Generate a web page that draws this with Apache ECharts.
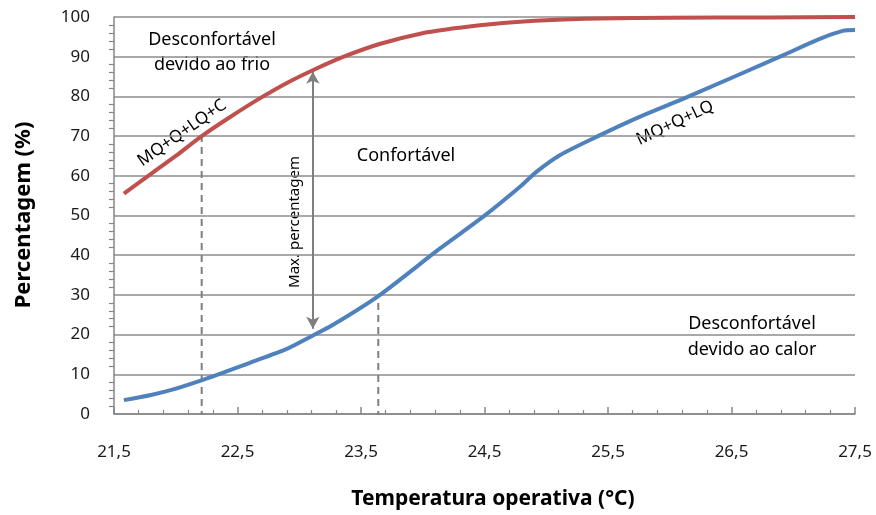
<!DOCTYPE html>
<html>
<head>
<meta charset="utf-8">
<script src="https://cdn.jsdelivr.net/npm/echarts@6/dist/echarts.min.js"></script>
<style>
html,body{margin:0;padding:0;background:#fff;}
#chart{width:876px;height:515px;}
</style>
</head>
<body>
<div id="chart"></div>
<script>
// ---- Data ----
var xTicks = [21.5, 22.5, 23.5, 24.5, 25.5, 26.5, 27.5];
var yTicks = [0, 10, 20, 30, 40, 50, 60, 70, 80, 90, 100];

// MQ+Q+LQ+C (red) : [temperature, percentage]
var redTemp = [21.58, 21.8, 22.0, 22.21, 22.45, 22.68, 22.9, 23.11, 23.36, 23.65, 23.98, 24.3, 24.65, 25.0, 25.44, 26.0, 26.8, 27.5];
var redPct  = [55.5, 60.5, 65.0, 70.0, 75.0, 79.5, 83.4, 86.6, 90.0, 93.2, 95.8, 97.3, 98.5, 99.2, 99.6, 99.8, 99.9, 100];

// MQ+Q+LQ (blue)
var blueTemp = [21.58, 21.8, 21.98, 22.22, 22.4, 22.6, 22.9, 23.1, 23.27, 23.64, 24.14, 24.49, 24.79, 24.92, 25.11, 25.44, 25.76, 26.14, 26.92, 27.2, 27.4, 27.5];
var bluePct  = [3.5, 4.8, 6.2, 8.6, 10.6, 12.9, 16.4, 19.6, 22.4, 29.7, 41.7, 49.7, 57.3, 61.0, 65.2, 70.3, 74.9, 79.8, 90.4, 94.3, 96.5, 96.7];

// Reference guides
var dashColdTemp = 22.21, dashColdPct = 70;
var dashHotTemp = 23.64, dashHotPct = 30;
var arrowTemp = 23.11, arrowLow = 21.5, arrowHigh = 86.2;

function pairs(xs, ys){ return xs.map(function(x,i){ return [x, ys[i]]; }); }

var FONT = "'Noto Sans', 'Open Sans', sans-serif";
var chart = echarts.init(document.getElementById('chart'));
var grid = {left:114, right:21, top:17, bottom:101};

var option = {
  animation:false,
  grid: grid,
  xAxis: {
    type:'value', min:21.5, max:27.5, interval:1,
    axisLine:{show:true, lineStyle:{color:'#868686', width:1.5}},
    axisTick:{show:true, inside:true, length:7, lineStyle:{color:'#868686', width:1.5}},
    minorTick:{show:true, splitNumber:5, length:4, lineStyle:{color:'#868686', width:1.2}},
    splitLine:{show:false},
    axisLabel:{margin:30, color:'#1a1a1a', fontSize:17, fontFamily:FONT,
      formatter:function(v){ return v.toFixed(1).replace('.', ','); }}
  },
  yAxis: {
    type:'value', min:0, max:100, interval:10,
    axisLine:{show:true, lineStyle:{color:'#868686', width:1.5}},
    axisTick:{show:false},
    minorTick:{show:true, splitNumber:5, length:5, lineStyle:{color:'#868686', width:1.2}},
    splitLine:{show:true, lineStyle:{color:'#8c8c8c', width:1.5}},
    axisLabel:{margin:24, color:'#1a1a1a', fontSize:17, fontFamily:FONT}
  },
  series: [
    {
      type:'line', name:'dashCold', data:[[dashColdTemp, -1], [dashColdTemp, dashColdPct]],
      symbol:'none', lineStyle:{color:'#7f7f7f', width:2, type:[7,5]}, z:1
    },
    {
      type:'line', name:'dashHot', data:[[dashHotTemp, -1], [dashHotTemp, dashHotPct]],
      symbol:'none', lineStyle:{color:'#7f7f7f', width:2, type:[7,5]}, z:1
    },
    {
      type:'line', name:'MQ+Q+LQ+C', data:pairs(redTemp, redPct), smooth:0.3,
      symbol:'none', lineStyle:{color:'#C0504D', width:4}, z:3
    },
    {
      type:'line', name:'MQ+Q+LQ', data:pairs(blueTemp, bluePct), smooth:0.25,
      symbol:'none', lineStyle:{color:'#4F81BD', width:4}, z:3,
      markLine:{
        silent:true, symbol:['arrow','arrow'], symbolSize:[10,12],
        label:{show:false},
        lineStyle:{color:'#7f7f7f', width:2, type:'solid'},
        data:[[{coord:[arrowTemp, arrowLow]}, {coord:[arrowTemp, arrowHigh]}]]
      }
    }
  ],
  graphic: [
    {type:'text', x:24, y:215, rotation:Math.PI/2, style:{text:'Percentagem (%)', font:'bold 22px '+FONT, fill:'#000', align:'center', verticalAlign:'middle'}},
    {type:'text', x:493, y:499, style:{text:'Temperatura operativa (°C)', font:'bold 21px '+FONT, fill:'#000', align:'center', verticalAlign:'middle'}},
    {type:'text', x:212, y:52, style:{text:'Desconfortável\ndevido ao frio', font:'18px '+FONT, lineHeight:25, fill:'#000', align:'center', verticalAlign:'middle'}},
    {type:'text', x:406, y:156, style:{text:'Confortável', font:'18px '+FONT, fill:'#000', align:'center', verticalAlign:'middle'}},
    {type:'text', x:752, y:337, style:{text:'Desconfortável\ndevido ao calor', font:'18px '+FONT, lineHeight:26, fill:'#000', align:'center', verticalAlign:'middle'}},
    {type:'text', x:295, y:222, rotation:Math.PI/2, style:{text:'Max. percentagem', font:'15px '+FONT, fill:'#000', align:'center', verticalAlign:'middle'}},
    {type:'text', x:182, y:133, rotation:35*Math.PI/180, style:{text:'MQ+Q+LQ+C', font:'17px '+FONT, fill:'#000', align:'center', verticalAlign:'middle'}},
    {type:'text', x:675, y:123, rotation:25.5*Math.PI/180, style:{text:'MQ+Q+LQ', font:'17px '+FONT, fill:'#000', align:'center', verticalAlign:'middle'}}
  ]
};
chart.setOption(option);
</script>
</body>
</html>
